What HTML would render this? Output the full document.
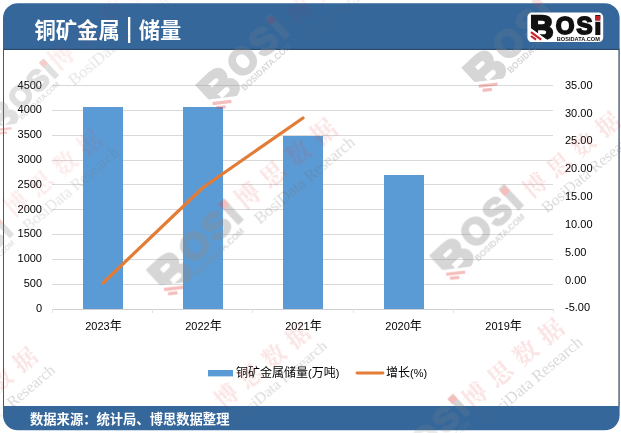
<!DOCTYPE html>
<html lang="zh-CN">
<head>
<meta charset="utf-8">
<title>铜矿金属 | 储量</title>
<style>
html,body{margin:0;padding:0;background:#fff;}
body{width:621px;height:433px;overflow:hidden;position:relative;font-family:"Liberation Sans","Noto Sans CJK SC",sans-serif;}
svg{position:absolute;left:0;top:0;display:block;}
.ax{font-family:"Liberation Sans","Noto Sans CJK SC",sans-serif;font-size:11px;fill:#000;}
.lg{font-size:12px;}
.yr{font-size:12px;}
.lt{font-size:11px;}
.title{font-family:"Liberation Sans","Noto Sans CJK SC",sans-serif;font-size:21.3px;font-weight:700;fill:#fff;}
.foot{font-family:"Liberation Sans","Noto Sans CJK SC",sans-serif;font-size:13.3px;font-weight:700;fill:#fff;}
</style>
</head>
<body>
<svg width="621" height="433" viewBox="0 0 621 433">
  <path d="M3 18.2 A15 15 0 0 1 18 3.2 H604.6 A15 15 0 0 1 619.6 18.2 V415.3 A15 15 0 0 1 604.6 430.3 H18 A15 15 0 0 1 3 415.3 Z" fill="#35679b"/>
  <rect x="3" y="49.4" width="616.4" height="356.6" fill="#44586f"/>
  <rect x="3" y="48.8" width="616.4" height="1.2" fill="#2b4b6e"/>
  <defs><clipPath id="bodyclip"><rect x="0" y="49.4" width="621" height="356.6"/></clipPath><clipPath id="bandclip"><rect x="0" y="0" width="621" height="49.4"/><rect x="0" y="406" width="621" height="27"/></clipPath><clipPath id="bcut"><polygon points="-5,-5 45,-5 45,35 30.3,35 -5,9.56"/></clipPath></defs>
  <rect x="4" y="50" width="614.4" height="356" fill="#fff"/>

<g stroke="#d9d9d9" stroke-width="1" shape-rendering="crispEdges">
<line x1="52" x2="553" y1="85.5" y2="85.5"/>
<line x1="52" x2="553" y1="110.5" y2="110.5"/>
<line x1="52" x2="553" y1="135.5" y2="135.5"/>
<line x1="52" x2="553" y1="160.5" y2="160.5"/>
<line x1="52" x2="553" y1="184.5" y2="184.5"/>
<line x1="52" x2="553" y1="209.5" y2="209.5"/>
<line x1="52" x2="553" y1="234.5" y2="234.5"/>
<line x1="52" x2="553" y1="259.5" y2="259.5"/>
<line x1="52" x2="553" y1="284.5" y2="284.5"/>
</g>
<g fill="#5b9bd5" shape-rendering="crispEdges">
<rect x="83" y="107" width="40" height="202.5"/>
<rect x="183" y="107" width="40" height="202.5"/>
<rect x="283" y="136" width="40" height="173.5"/>
<rect x="384" y="175" width="40" height="134.5"/>
</g>
<g stroke="#d0d0d0" stroke-width="1" shape-rendering="crispEdges">
<line x1="52" x2="553" y1="309.5" y2="309.5"/>
<line x1="52.5" x2="52.5" y1="309" y2="313" stroke="#e2e2e2"/>
<line x1="152.5" x2="152.5" y1="309" y2="313" stroke="#e2e2e2"/>
<line x1="252.5" x2="252.5" y1="309" y2="313" stroke="#e2e2e2"/>
<line x1="353.5" x2="353.5" y1="309" y2="313" stroke="#e2e2e2"/>
<line x1="453.5" x2="453.5" y1="309" y2="313" stroke="#e2e2e2"/>
<line x1="553.5" x2="553.5" y1="309" y2="313" stroke="#e2e2e2"/>
</g>
<polyline points="103,283 203,187.5 303,118" fill="none" stroke="#e27c36" stroke-width="3.2" stroke-linecap="round" stroke-linejoin="round"/>
<g class="ax" text-anchor="end">
<text x="42" y="88.5">4500</text>
<text x="42" y="113.3">4000</text>
<text x="42" y="138.1">3500</text>
<text x="42" y="162.9">3000</text>
<text x="42" y="187.7">2500</text>
<text x="42" y="212.5">2000</text>
<text x="42" y="237.3">1500</text>
<text x="42" y="262.1">1000</text>
<text x="42" y="286.9">500</text>
<text x="42" y="311.70000000000005">0</text>
</g><g class="ax">
<text x="565" y="88.8">35.00</text>
<text x="565" y="116.6">30.00</text>
<text x="565" y="144.4">25.00</text>
<text x="565" y="172.2">20.00</text>
<text x="565" y="200.0">15.00</text>
<text x="565" y="227.8">10.00</text>
<text x="565" y="255.7">5.00</text>
<text x="565" y="283.5">0.00</text>
<text x="565" y="311.3">-5.00</text>
</g><g class="ax" text-anchor="middle">
<text x="103.5" y="329.7">2023<tspan class="yr">年</tspan></text>
<text x="203.5" y="329.7">2022<tspan class="yr">年</tspan></text>
<text x="303.5" y="329.7">2021<tspan class="yr">年</tspan></text>
<text x="403.6" y="329.7">2020<tspan class="yr">年</tspan></text>
<text x="503.6" y="329.7">2019<tspan class="yr">年</tspan></text>
</g>
<rect x="208" y="370" width="25" height="6.4" fill="#5b9bd5"/>
<text class="ax lg" x="236" y="377.4">铜矿金属储量<tspan class="lt">(</tspan>万吨<tspan class="lt">)</tspan></text>
<line x1="357" x2="383" y1="373" y2="373" stroke="#e27c36" stroke-width="2.8" stroke-linecap="round"/>
<text class="ax lg" x="386" y="377.4">增长<tspan class="lt">(%)</tspan></text>
<text class="title" x="34.5" y="37.8">铜矿金属 <tspan font-size="28" font-weight="400" dy="-1.2">|</tspan><tspan dy="1.2"> 储量</tspan></text>
<text class="foot" x="30" y="423.7">数据来源：统计局、博思数据整理</text>

<g opacity="0.35" clip-path="url(#bodyclip)"><g transform="translate(188.5 85.8) rotate(-43) scale(1.5)"><text clip-path="url(#bcut)" x="2.6" y="26.1" font-family="Liberation Sans, sans-serif" font-weight="700" font-size="32.5" fill="#8a8a8a" stroke="#8a8a8a" stroke-width="2.4" stroke-linejoin="miter">B</text>
<text x="28.4" y="20.9" font-family="Liberation Sans, sans-serif" font-weight="700" font-size="24" letter-spacing="2.0" fill="#8a8a8a" stroke="#8a8a8a" stroke-width="1.8" stroke-linejoin="miter">OSi</text>
<rect x="67.6" y="3.2" width="5.2" height="4.9" fill="#e0453f"/>
<g stroke="#e0453f" stroke-width="2.1"><line x1="3.6" y1="19.6" x2="13.8" y2="27.1"/><line x1="3.6" y1="23.4" x2="8.6" y2="27.1"/></g>
<text x="24.8" y="28.1" font-family="Liberation Sans, sans-serif" font-weight="700" font-size="6" textLength="43.2" lengthAdjust="spacingAndGlyphs" fill="#8a8a8a">BOSIDATA.COM</text></g>
<g transform="translate(454.7 68.4) rotate(-43) scale(1.5)"><text clip-path="url(#bcut)" x="2.6" y="26.1" font-family="Liberation Sans, sans-serif" font-weight="700" font-size="32.5" fill="#8a8a8a" stroke="#8a8a8a" stroke-width="2.4" stroke-linejoin="miter">B</text>
<text x="28.4" y="20.9" font-family="Liberation Sans, sans-serif" font-weight="700" font-size="24" letter-spacing="2.0" fill="#8a8a8a" stroke="#8a8a8a" stroke-width="1.8" stroke-linejoin="miter">OSi</text>
<rect x="67.6" y="3.2" width="5.2" height="4.9" fill="#e0453f"/>
<g stroke="#e0453f" stroke-width="2.1"><line x1="3.6" y1="19.6" x2="13.8" y2="27.1"/><line x1="3.6" y1="23.4" x2="8.6" y2="27.1"/></g>
<text x="24.8" y="28.1" font-family="Liberation Sans, sans-serif" font-weight="700" font-size="6" textLength="43.2" lengthAdjust="spacingAndGlyphs" fill="#8a8a8a">BOSIDATA.COM</text></g>
<g transform="translate(139.6 271.4) rotate(-43) scale(1.53)"><text clip-path="url(#bcut)" x="2.6" y="26.1" font-family="Liberation Sans, sans-serif" font-weight="700" font-size="32.5" fill="#8a8a8a" stroke="#8a8a8a" stroke-width="2.4" stroke-linejoin="miter">B</text>
<text x="28.4" y="20.9" font-family="Liberation Sans, sans-serif" font-weight="700" font-size="24" letter-spacing="2.0" fill="#8a8a8a" stroke="#8a8a8a" stroke-width="1.8" stroke-linejoin="miter">OSi</text>
<rect x="67.6" y="3.2" width="5.2" height="4.9" fill="#e0453f"/>
<g stroke="#e0453f" stroke-width="2.1"><line x1="3.6" y1="19.6" x2="13.8" y2="27.1"/><line x1="3.6" y1="23.4" x2="8.6" y2="27.1"/></g>
<text x="24.8" y="28.1" font-family="Liberation Sans, sans-serif" font-weight="700" font-size="6" textLength="43.2" lengthAdjust="spacingAndGlyphs" fill="#8a8a8a">BOSIDATA.COM</text></g>
<g transform="translate(422.2 256.4) rotate(-43) scale(1.5)"><text clip-path="url(#bcut)" x="2.6" y="26.1" font-family="Liberation Sans, sans-serif" font-weight="700" font-size="32.5" fill="#8a8a8a" stroke="#8a8a8a" stroke-width="2.4" stroke-linejoin="miter">B</text>
<text x="28.4" y="20.9" font-family="Liberation Sans, sans-serif" font-weight="700" font-size="24" letter-spacing="2.0" fill="#8a8a8a" stroke="#8a8a8a" stroke-width="1.8" stroke-linejoin="miter">OSi</text>
<rect x="67.6" y="3.2" width="5.2" height="4.9" fill="#e0453f"/>
<g stroke="#e0453f" stroke-width="2.1"><line x1="3.6" y1="19.6" x2="13.8" y2="27.1"/><line x1="3.6" y1="23.4" x2="8.6" y2="27.1"/></g>
<text x="24.8" y="28.1" font-family="Liberation Sans, sans-serif" font-weight="700" font-size="6" textLength="43.2" lengthAdjust="spacingAndGlyphs" fill="#8a8a8a">BOSIDATA.COM</text></g>
<g opacity="0.75" transform="translate(-22.7 115.7) rotate(-43) scale(1.2)"><text clip-path="url(#bcut)" x="2.6" y="26.1" font-family="Liberation Sans, sans-serif" font-weight="700" font-size="32.5" fill="#8a8a8a" stroke="#8a8a8a" stroke-width="2.4" stroke-linejoin="miter">B</text>
<text x="28.4" y="20.9" font-family="Liberation Sans, sans-serif" font-weight="700" font-size="24" letter-spacing="2.0" fill="#8a8a8a" stroke="#8a8a8a" stroke-width="1.8" stroke-linejoin="miter">OSi</text>
<rect x="67.6" y="3.2" width="5.2" height="4.9" fill="#e0453f"/>
<g stroke="#e0453f" stroke-width="2.1"><line x1="3.6" y1="19.6" x2="13.8" y2="27.1"/><line x1="3.6" y1="23.4" x2="8.6" y2="27.1"/></g>
<text x="24.8" y="28.1" font-family="Liberation Sans, sans-serif" font-weight="700" font-size="6" textLength="43.2" lengthAdjust="spacingAndGlyphs" fill="#8a8a8a">BOSIDATA.COM</text></g>
<g opacity="0.75" transform="translate(-67.7 274.7) rotate(-43) scale(1.2)"><text clip-path="url(#bcut)" x="2.6" y="26.1" font-family="Liberation Sans, sans-serif" font-weight="700" font-size="32.5" fill="#8a8a8a" stroke="#8a8a8a" stroke-width="2.4" stroke-linejoin="miter">B</text>
<text x="28.4" y="20.9" font-family="Liberation Sans, sans-serif" font-weight="700" font-size="24" letter-spacing="2.0" fill="#8a8a8a" stroke="#8a8a8a" stroke-width="1.8" stroke-linejoin="miter">OSi</text>
<rect x="67.6" y="3.2" width="5.2" height="4.9" fill="#e0453f"/>
<g stroke="#e0453f" stroke-width="2.1"><line x1="3.6" y1="19.6" x2="13.8" y2="27.1"/><line x1="3.6" y1="23.4" x2="8.6" y2="27.1"/></g>
<text x="24.8" y="28.1" font-family="Liberation Sans, sans-serif" font-weight="700" font-size="6" textLength="43.2" lengthAdjust="spacingAndGlyphs" fill="#8a8a8a">BOSIDATA.COM</text></g>
<g transform="translate(374.2 461.2) rotate(-43) scale(1.42)"><text clip-path="url(#bcut)" x="2.6" y="26.1" font-family="Liberation Sans, sans-serif" font-weight="700" font-size="32.5" fill="#8a8a8a" stroke="#8a8a8a" stroke-width="2.4" stroke-linejoin="miter">B</text>
<text x="28.4" y="20.9" font-family="Liberation Sans, sans-serif" font-weight="700" font-size="24" letter-spacing="2.0" fill="#8a8a8a" stroke="#8a8a8a" stroke-width="1.8" stroke-linejoin="miter">OSi</text>
<rect x="67.6" y="3.2" width="5.2" height="4.9" fill="#e0453f"/>
<g stroke="#e0453f" stroke-width="2.1"><line x1="3.6" y1="19.6" x2="13.8" y2="27.1"/><line x1="3.6" y1="23.4" x2="8.6" y2="27.1"/></g>
<text x="24.8" y="28.1" font-family="Liberation Sans, sans-serif" font-weight="700" font-size="6" textLength="43.2" lengthAdjust="spacingAndGlyphs" fill="#8a8a8a">BOSIDATA.COM</text></g></g>
<g opacity="0.17" clip-path="url(#bandclip)"><g transform="translate(188.5 85.8) rotate(-43) scale(1.5)"><text clip-path="url(#bcut)" x="2.6" y="26.1" font-family="Liberation Sans, sans-serif" font-weight="700" font-size="32.5" fill="#8a8a8a" stroke="#8a8a8a" stroke-width="2.4" stroke-linejoin="miter">B</text>
<text x="28.4" y="20.9" font-family="Liberation Sans, sans-serif" font-weight="700" font-size="24" letter-spacing="2.0" fill="#8a8a8a" stroke="#8a8a8a" stroke-width="1.8" stroke-linejoin="miter">OSi</text>
<rect x="67.6" y="3.2" width="5.2" height="4.9" fill="#e0453f"/>
<g stroke="#e0453f" stroke-width="2.1"><line x1="3.6" y1="19.6" x2="13.8" y2="27.1"/><line x1="3.6" y1="23.4" x2="8.6" y2="27.1"/></g>
<text x="24.8" y="28.1" font-family="Liberation Sans, sans-serif" font-weight="700" font-size="6" textLength="43.2" lengthAdjust="spacingAndGlyphs" fill="#8a8a8a">BOSIDATA.COM</text></g>
<g transform="translate(454.7 68.4) rotate(-43) scale(1.5)"><text clip-path="url(#bcut)" x="2.6" y="26.1" font-family="Liberation Sans, sans-serif" font-weight="700" font-size="32.5" fill="#8a8a8a" stroke="#8a8a8a" stroke-width="2.4" stroke-linejoin="miter">B</text>
<text x="28.4" y="20.9" font-family="Liberation Sans, sans-serif" font-weight="700" font-size="24" letter-spacing="2.0" fill="#8a8a8a" stroke="#8a8a8a" stroke-width="1.8" stroke-linejoin="miter">OSi</text>
<rect x="67.6" y="3.2" width="5.2" height="4.9" fill="#e0453f"/>
<g stroke="#e0453f" stroke-width="2.1"><line x1="3.6" y1="19.6" x2="13.8" y2="27.1"/><line x1="3.6" y1="23.4" x2="8.6" y2="27.1"/></g>
<text x="24.8" y="28.1" font-family="Liberation Sans, sans-serif" font-weight="700" font-size="6" textLength="43.2" lengthAdjust="spacingAndGlyphs" fill="#8a8a8a">BOSIDATA.COM</text></g>
<g transform="translate(139.6 271.4) rotate(-43) scale(1.53)"><text clip-path="url(#bcut)" x="2.6" y="26.1" font-family="Liberation Sans, sans-serif" font-weight="700" font-size="32.5" fill="#8a8a8a" stroke="#8a8a8a" stroke-width="2.4" stroke-linejoin="miter">B</text>
<text x="28.4" y="20.9" font-family="Liberation Sans, sans-serif" font-weight="700" font-size="24" letter-spacing="2.0" fill="#8a8a8a" stroke="#8a8a8a" stroke-width="1.8" stroke-linejoin="miter">OSi</text>
<rect x="67.6" y="3.2" width="5.2" height="4.9" fill="#e0453f"/>
<g stroke="#e0453f" stroke-width="2.1"><line x1="3.6" y1="19.6" x2="13.8" y2="27.1"/><line x1="3.6" y1="23.4" x2="8.6" y2="27.1"/></g>
<text x="24.8" y="28.1" font-family="Liberation Sans, sans-serif" font-weight="700" font-size="6" textLength="43.2" lengthAdjust="spacingAndGlyphs" fill="#8a8a8a">BOSIDATA.COM</text></g>
<g transform="translate(422.2 256.4) rotate(-43) scale(1.5)"><text clip-path="url(#bcut)" x="2.6" y="26.1" font-family="Liberation Sans, sans-serif" font-weight="700" font-size="32.5" fill="#8a8a8a" stroke="#8a8a8a" stroke-width="2.4" stroke-linejoin="miter">B</text>
<text x="28.4" y="20.9" font-family="Liberation Sans, sans-serif" font-weight="700" font-size="24" letter-spacing="2.0" fill="#8a8a8a" stroke="#8a8a8a" stroke-width="1.8" stroke-linejoin="miter">OSi</text>
<rect x="67.6" y="3.2" width="5.2" height="4.9" fill="#e0453f"/>
<g stroke="#e0453f" stroke-width="2.1"><line x1="3.6" y1="19.6" x2="13.8" y2="27.1"/><line x1="3.6" y1="23.4" x2="8.6" y2="27.1"/></g>
<text x="24.8" y="28.1" font-family="Liberation Sans, sans-serif" font-weight="700" font-size="6" textLength="43.2" lengthAdjust="spacingAndGlyphs" fill="#8a8a8a">BOSIDATA.COM</text></g>
<g opacity="0.75" transform="translate(-22.7 115.7) rotate(-43) scale(1.2)"><text clip-path="url(#bcut)" x="2.6" y="26.1" font-family="Liberation Sans, sans-serif" font-weight="700" font-size="32.5" fill="#8a8a8a" stroke="#8a8a8a" stroke-width="2.4" stroke-linejoin="miter">B</text>
<text x="28.4" y="20.9" font-family="Liberation Sans, sans-serif" font-weight="700" font-size="24" letter-spacing="2.0" fill="#8a8a8a" stroke="#8a8a8a" stroke-width="1.8" stroke-linejoin="miter">OSi</text>
<rect x="67.6" y="3.2" width="5.2" height="4.9" fill="#e0453f"/>
<g stroke="#e0453f" stroke-width="2.1"><line x1="3.6" y1="19.6" x2="13.8" y2="27.1"/><line x1="3.6" y1="23.4" x2="8.6" y2="27.1"/></g>
<text x="24.8" y="28.1" font-family="Liberation Sans, sans-serif" font-weight="700" font-size="6" textLength="43.2" lengthAdjust="spacingAndGlyphs" fill="#8a8a8a">BOSIDATA.COM</text></g>
<g opacity="0.75" transform="translate(-67.7 274.7) rotate(-43) scale(1.2)"><text clip-path="url(#bcut)" x="2.6" y="26.1" font-family="Liberation Sans, sans-serif" font-weight="700" font-size="32.5" fill="#8a8a8a" stroke="#8a8a8a" stroke-width="2.4" stroke-linejoin="miter">B</text>
<text x="28.4" y="20.9" font-family="Liberation Sans, sans-serif" font-weight="700" font-size="24" letter-spacing="2.0" fill="#8a8a8a" stroke="#8a8a8a" stroke-width="1.8" stroke-linejoin="miter">OSi</text>
<rect x="67.6" y="3.2" width="5.2" height="4.9" fill="#e0453f"/>
<g stroke="#e0453f" stroke-width="2.1"><line x1="3.6" y1="19.6" x2="13.8" y2="27.1"/><line x1="3.6" y1="23.4" x2="8.6" y2="27.1"/></g>
<text x="24.8" y="28.1" font-family="Liberation Sans, sans-serif" font-weight="700" font-size="6" textLength="43.2" lengthAdjust="spacingAndGlyphs" fill="#8a8a8a">BOSIDATA.COM</text></g>
<g transform="translate(374.2 461.2) rotate(-43) scale(1.42)"><text clip-path="url(#bcut)" x="2.6" y="26.1" font-family="Liberation Sans, sans-serif" font-weight="700" font-size="32.5" fill="#8a8a8a" stroke="#8a8a8a" stroke-width="2.4" stroke-linejoin="miter">B</text>
<text x="28.4" y="20.9" font-family="Liberation Sans, sans-serif" font-weight="700" font-size="24" letter-spacing="2.0" fill="#8a8a8a" stroke="#8a8a8a" stroke-width="1.8" stroke-linejoin="miter">OSi</text>
<rect x="67.6" y="3.2" width="5.2" height="4.9" fill="#e0453f"/>
<g stroke="#e0453f" stroke-width="2.1"><line x1="3.6" y1="19.6" x2="13.8" y2="27.1"/><line x1="3.6" y1="23.4" x2="8.6" y2="27.1"/></g>
<text x="24.8" y="28.1" font-family="Liberation Sans, sans-serif" font-weight="700" font-size="6" textLength="43.2" lengthAdjust="spacingAndGlyphs" fill="#8a8a8a">BOSIDATA.COM</text></g></g>
<g clip-path="url(#bodyclip)"><g transform="translate(247.5 195.5) rotate(-40) scale(0.98)"><text x="-12.5" y="9" font-family="Liberation Serif, Noto Serif CJK SC, serif" font-weight="700" font-size="25" letter-spacing="8.7" fill="#e03030" fill-opacity="0.13">博思数据</text><text x="-9.4" y="31" font-family="Liberation Serif, serif" font-size="17" textLength="128" lengthAdjust="spacing" fill="#6a6a6a" fill-opacity="0.25">BosiData Research</text></g>
<g transform="translate(535.0 185.5) rotate(-40) scale(0.94)"><text x="-12.5" y="9" font-family="Liberation Serif, Noto Serif CJK SC, serif" font-weight="700" font-size="25" letter-spacing="8.7" fill="#e03030" fill-opacity="0.13">博思数据</text><text x="-9.4" y="31" font-family="Liberation Serif, serif" font-size="17" textLength="128" lengthAdjust="spacing" fill="#6a6a6a" fill-opacity="0.25">BosiData Research</text></g>
<g opacity="0.7" transform="translate(61.4 56.5) rotate(-40) scale(1)"><text x="-12.5" y="9" font-family="Liberation Serif, Noto Serif CJK SC, serif" font-weight="700" font-size="25" letter-spacing="8.7" fill="#e03030" fill-opacity="0.13">博思数据</text><text x="-9.4" y="31" font-family="Liberation Serif, serif" font-size="17" textLength="128" lengthAdjust="spacing" fill="#6a6a6a" fill-opacity="0.25">BosiData Research</text></g>
<g opacity="0.7" transform="translate(16.5 204.0) rotate(-40) scale(0.94)"><text x="-12.5" y="9" font-family="Liberation Serif, Noto Serif CJK SC, serif" font-weight="700" font-size="25" letter-spacing="8.7" fill="#e03030" fill-opacity="0.13">博思数据</text><text x="-9.4" y="31" font-family="Liberation Serif, serif" font-size="17" textLength="128" lengthAdjust="spacing" fill="#6a6a6a" fill-opacity="0.25">BosiData Research</text></g>
<g transform="translate(226.5 396.0) rotate(-40) scale(0.92)"><text x="-12.5" y="9" font-family="Liberation Serif, Noto Serif CJK SC, serif" font-weight="700" font-size="25" letter-spacing="8.7" fill="#e03030" fill-opacity="0.13">博思数据</text><text x="-9.4" y="31" font-family="Liberation Serif, serif" font-size="17" textLength="128" lengthAdjust="spacing" fill="#6a6a6a" fill-opacity="0.25">BosiData Research</text></g>
<g transform="translate(475.0 395.4) rotate(-40) scale(0.98)"><text x="-12.5" y="9" font-family="Liberation Serif, Noto Serif CJK SC, serif" font-weight="700" font-size="25" letter-spacing="8.7" fill="#e03030" fill-opacity="0.13">博思数据</text><text x="-9.4" y="31" font-family="Liberation Serif, serif" font-size="17" textLength="128" lengthAdjust="spacing" fill="#6a6a6a" fill-opacity="0.25">BosiData Research</text></g>
<g transform="translate(-47.0 420.4) rotate(-40) scale(0.93)"><text x="-12.5" y="9" font-family="Liberation Serif, Noto Serif CJK SC, serif" font-weight="700" font-size="25" letter-spacing="8.7" fill="#e03030" fill-opacity="0.13">博思数据</text><text x="-9.4" y="31" font-family="Liberation Serif, serif" font-size="17" textLength="128" lengthAdjust="spacing" fill="#6a6a6a" fill-opacity="0.25">BosiData Research</text></g>
<g transform="translate(300.0 11.0) rotate(-40) scale(1)"><text x="-12.5" y="9" font-family="Liberation Serif, Noto Serif CJK SC, serif" font-weight="700" font-size="25" letter-spacing="8.7" fill="#e03030" fill-opacity="0.13">博思数据</text><text x="-9.4" y="31" font-family="Liberation Serif, serif" font-size="17" textLength="128" lengthAdjust="spacing" fill="#6a6a6a" fill-opacity="0.25">BosiData Research</text></g></g>
<g opacity="0.55" clip-path="url(#bandclip)"><g transform="translate(247.5 195.5) rotate(-40) scale(0.98)"><text x="-12.5" y="9" font-family="Liberation Serif, Noto Serif CJK SC, serif" font-weight="700" font-size="25" letter-spacing="8.7" fill="#e03030" fill-opacity="0.13">博思数据</text><text x="-9.4" y="31" font-family="Liberation Serif, serif" font-size="17" textLength="128" lengthAdjust="spacing" fill="#6a6a6a" fill-opacity="0.25">BosiData Research</text></g>
<g transform="translate(535.0 185.5) rotate(-40) scale(0.94)"><text x="-12.5" y="9" font-family="Liberation Serif, Noto Serif CJK SC, serif" font-weight="700" font-size="25" letter-spacing="8.7" fill="#e03030" fill-opacity="0.13">博思数据</text><text x="-9.4" y="31" font-family="Liberation Serif, serif" font-size="17" textLength="128" lengthAdjust="spacing" fill="#6a6a6a" fill-opacity="0.25">BosiData Research</text></g>
<g opacity="0.7" transform="translate(61.4 56.5) rotate(-40) scale(1)"><text x="-12.5" y="9" font-family="Liberation Serif, Noto Serif CJK SC, serif" font-weight="700" font-size="25" letter-spacing="8.7" fill="#e03030" fill-opacity="0.13">博思数据</text><text x="-9.4" y="31" font-family="Liberation Serif, serif" font-size="17" textLength="128" lengthAdjust="spacing" fill="#6a6a6a" fill-opacity="0.25">BosiData Research</text></g>
<g opacity="0.7" transform="translate(16.5 204.0) rotate(-40) scale(0.94)"><text x="-12.5" y="9" font-family="Liberation Serif, Noto Serif CJK SC, serif" font-weight="700" font-size="25" letter-spacing="8.7" fill="#e03030" fill-opacity="0.13">博思数据</text><text x="-9.4" y="31" font-family="Liberation Serif, serif" font-size="17" textLength="128" lengthAdjust="spacing" fill="#6a6a6a" fill-opacity="0.25">BosiData Research</text></g>
<g transform="translate(226.5 396.0) rotate(-40) scale(0.92)"><text x="-12.5" y="9" font-family="Liberation Serif, Noto Serif CJK SC, serif" font-weight="700" font-size="25" letter-spacing="8.7" fill="#e03030" fill-opacity="0.13">博思数据</text><text x="-9.4" y="31" font-family="Liberation Serif, serif" font-size="17" textLength="128" lengthAdjust="spacing" fill="#6a6a6a" fill-opacity="0.25">BosiData Research</text></g>
<g transform="translate(475.0 395.4) rotate(-40) scale(0.98)"><text x="-12.5" y="9" font-family="Liberation Serif, Noto Serif CJK SC, serif" font-weight="700" font-size="25" letter-spacing="8.7" fill="#e03030" fill-opacity="0.13">博思数据</text><text x="-9.4" y="31" font-family="Liberation Serif, serif" font-size="17" textLength="128" lengthAdjust="spacing" fill="#6a6a6a" fill-opacity="0.25">BosiData Research</text></g>
<g transform="translate(-47.0 420.4) rotate(-40) scale(0.93)"><text x="-12.5" y="9" font-family="Liberation Serif, Noto Serif CJK SC, serif" font-weight="700" font-size="25" letter-spacing="8.7" fill="#e03030" fill-opacity="0.13">博思数据</text><text x="-9.4" y="31" font-family="Liberation Serif, serif" font-size="17" textLength="128" lengthAdjust="spacing" fill="#6a6a6a" fill-opacity="0.25">BosiData Research</text></g>
<g transform="translate(300.0 11.0) rotate(-40) scale(1)"><text x="-12.5" y="9" font-family="Liberation Serif, Noto Serif CJK SC, serif" font-weight="700" font-size="25" letter-spacing="8.7" fill="#e03030" fill-opacity="0.13">博思数据</text><text x="-9.4" y="31" font-family="Liberation Serif, serif" font-size="17" textLength="128" lengthAdjust="spacing" fill="#6a6a6a" fill-opacity="0.25">BosiData Research</text></g></g>
<g transform="translate(527.4 12.6)"><rect x="0" y="0" width="75.8" height="29.5" rx="4.5" fill="#fff"/>
<text clip-path="url(#bcut)" x="2.6" y="26.1" font-family="Liberation Sans, sans-serif" font-weight="700" font-size="32.5" fill="#111" stroke="#111" stroke-width="2.4" stroke-linejoin="miter">B</text>
<polygon points="2,14.6 2,29 22,29" fill="#fff"/>
<text x="28.4" y="20.9" font-family="Liberation Sans, sans-serif" font-weight="700" font-size="24" letter-spacing="2.0" fill="#111" stroke="#111" stroke-width="1.8" stroke-linejoin="miter">OSi</text>
<rect x="67.6" y="3.2" width="5.2" height="4.9" fill="#c8202c"/>
<rect x="67" y="8.1" width="6.5" height="1.1" fill="#fff"/>
<g stroke="#c8202c" stroke-width="2.1"><line x1="3.6" y1="19.6" x2="13.8" y2="27.1"/><line x1="3.6" y1="23.4" x2="8.6" y2="27.1"/></g>
<text x="29.3" y="28.1" font-family="Liberation Sans, sans-serif" font-weight="700" font-size="6" textLength="43.2" lengthAdjust="spacingAndGlyphs" fill="#111">BOSIDATA.COM</text></g>
</svg>
</body>
</html>
